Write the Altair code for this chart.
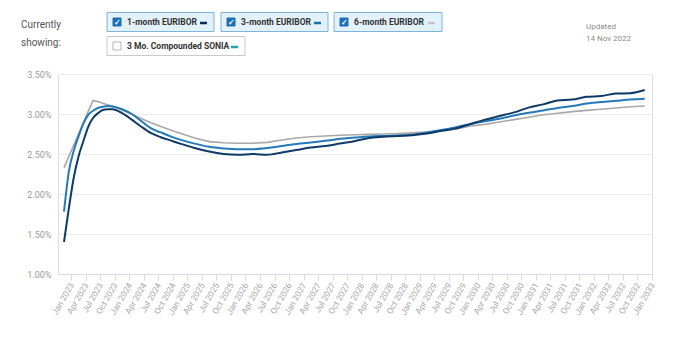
import altair as alt
import pandas as pd

# ---- data (month index counted from Jan 2023) ----
months = [0, 1, 2, 3, 4, 5, 6, 7, 8, 9, 10, 12, 14, 16, 18, 20, 22, 24, 27, 30,
          33, 36, 39, 42, 45, 48, 51, 54, 57, 60, 63, 66, 69, 72, 75, 78, 81, 84,
          87, 90, 93, 96, 99, 102, 105, 108, 111, 114, 117, 120]

euribor_1m = [1.40, 1.82, 2.20, 2.47, 2.66, 2.84, 2.95, 3.01, 3.05, 3.06, 3.06,
              3.01, 2.93, 2.84, 2.76, 2.71, 2.67, 2.63, 2.575, 2.53, 2.50, 2.49,
              2.50, 2.49, 2.52, 2.55, 2.58, 2.60, 2.63, 2.66, 2.70, 2.715, 2.725,
              2.735, 2.755, 2.79, 2.82, 2.875, 2.93, 2.975, 3.02, 3.08, 3.12, 3.17,
              3.18, 3.215, 3.225, 3.255, 3.26, 3.30]

euribor_3m = [1.78, 2.28, 2.54, 2.72, 2.88, 2.99, 3.04, 3.075, 3.09, 3.10, 3.095,
              3.06, 3.00, 2.91, 2.82, 2.77, 2.72, 2.68, 2.63, 2.59, 2.57, 2.56,
              2.56, 2.575, 2.60, 2.625, 2.645, 2.665, 2.69, 2.705, 2.72, 2.725,
              2.73, 2.745, 2.77, 2.80, 2.835, 2.875, 2.91, 2.94, 2.98, 3.015, 3.045,
              3.075, 3.10, 3.13, 3.15, 3.165, 3.18, 3.19]

euribor_6m = [2.33, 2.47, 2.61, 2.75, 2.89, 3.03, 3.17, 3.155, 3.135, 3.115, 3.10,
              3.05, 3.00, 2.94, 2.89, 2.845, 2.80, 2.76, 2.70, 2.655, 2.64, 2.635,
              2.635, 2.645, 2.675, 2.70, 2.715, 2.725, 2.735, 2.74, 2.745, 2.75,
              2.755, 2.765, 2.775, 2.79, 2.81, 2.85, 2.87, 2.90, 2.93, 2.96, 2.99,
              3.01, 3.03, 3.045, 3.06, 3.075, 3.09, 3.10]

quarter_names = ["Jan", "Apr", "Jul", "Oct"]
tick_labels = [f"{q} {y}" for y in range(2023, 2033) for q in quarter_names] + ["Jan 2033"]
y_ticks = [1.0, 1.5, 2.0, 2.5, 3.0, 3.5]

legend_labels = ["1-month EURIBOR", "3-month EURIBOR", "6-month EURIBOR",
                 "3 Mo. Compounded SONIA"]
legend_checked = [True, True, True, False]

# ---- styling ----
FONT = "Roboto"
colors = {"1-month EURIBOR": "#0d3a66", "3-month EURIBOR": "#2479b9",
          "6-month EURIBOR": "#a8a8a8"}
legend_dash_colors = ["#0b2d55", "#1b6fa8", "#c4c4c4", "#1aa6b7"]
# legend boxes in page pixels: left, right, top
legend_boxes = [(107, 214, 12.5), (221, 328, 12.5), (334, 442, 12.5), (107, 245, 36.5)]
OX, OY = 58, 74  # plot origin in page pixels

tick_vals = [1.5 + 3 * k for k in range(len(tick_labels))]
label_arr = "[" + ",".join(f"'{t}'" for t in tick_labels) + "]"

x_enc = alt.X(
    "m:Q",
    scale=alt.Scale(domain=[-1.24, 121.5], nice=False, zero=False),
    axis=alt.Axis(values=tick_vals, labelExpr=f"{label_arr}[round((datum.value-1.5)/3)]",
                  labelAngle=300, labelAlign="right", labelBaseline="middle",
                  labelFontSize=8.5, labelColor="#a9a9a9", labelFont=FONT,
                  labelPadding=3, labelOverlap=False, domainColor="#d6dce6",
                  tickColor="#d6dce6", tickSize=6, grid=False, title=None),
)
y_enc = alt.Y(
    "v:Q",
    scale=alt.Scale(domain=[1.0, 3.5], nice=False, zero=False),
    axis=alt.Axis(values=y_ticks, labelExpr="format(datum.value,'.2f')+'%'",
                  domain=False, ticks=False, gridColor="#ececec", labelColor="#9a9a9a",
                  labelFontSize=9, labelFont=FONT, labelPadding=7, title=None),
)


def series_layer(name, vals, interp, width):
    df = pd.DataFrame({"m": months, "v": vals})
    return alt.Chart(df).mark_line(color=colors[name], strokeWidth=width,
                                   interpolate=interp).encode(x=x_enc, y=y_enc)


layers = [
    series_layer("6-month EURIBOR", euribor_6m, "linear", 1.6),
    series_layer("3-month EURIBOR", euribor_3m, "monotone", 2.0),
    series_layer("1-month EURIBOR", euribor_1m, "monotone", 2.0),
]

dummy = alt.Data(values=[{"a": 1}])


def txt(x, y, s, size, color, weight="normal", align="left"):
    return alt.Chart(dummy).mark_text(fontSize=size, font=FONT, color=color,
                                      fontWeight=weight, align=align,
                                      baseline="middle").encode(
        x=alt.value(x - OX), y=alt.value(y - OY), text=alt.value(s))


layers += [
    txt(21, 25, "Currently", 10, "#555555"),
    txt(21, 43, "showing:", 10, "#555555"),
    txt(586, 27, "Updated", 8, "#8a8a8a"),
    txt(586, 39, "14 Nov 2022", 8, "#8a8a8a"),
]

for label, checked, dash, (l, r, t) in zip(legend_labels, legend_checked,
                                           legend_dash_colors, legend_boxes):
    cy = t + 9.5
    layers.append(alt.Chart(dummy).mark_rect(
        fill="#e3f1fb" if checked else "#ffffff",
        stroke="#7db4da" if checked else "#c9c9c9", strokeWidth=1).encode(
        x=alt.value(l - OX), x2=alt.value(r - OX),
        y=alt.value(t - OY), y2=alt.value(t + 19 - OY)))
    layers.append(alt.Chart(dummy).mark_rect(
        fill="#1a6fb5" if checked else "#ffffff",
        stroke="#1a6fb5" if checked else "#b5b5b5", strokeWidth=1).encode(
        x=alt.value(l + 6 - OX), x2=alt.value(l + 14 - OX),
        y=alt.value(cy - 4 - OY), y2=alt.value(cy + 4 - OY)))
    if checked:
        layers.append(txt(l + 10, cy + 0.5, "✓", 8, "#ffffff", "bold", "center"))
    layers.append(txt(l + 20, cy, label, 8.5, "#333333", "bold"))
    layers.append(alt.Chart(dummy).mark_rule(color=dash, strokeWidth=2.5).encode(
        x=alt.value(r - 14 - OX), x2=alt.value(r - 7 - OX),
        y=alt.value(cy + 1 - OY)))

chart = alt.layer(*layers).properties(
    width=594, height=200,
    padding={"left": 50, "top": 66, "right": 14, "bottom": 80},
    autosize=alt.AutoSizeParams(type="none"),
).configure_view(stroke=None).configure(background="#ffffff")

chart.save("out.html", embed_options={"renderer": "svg", "actions": False})
